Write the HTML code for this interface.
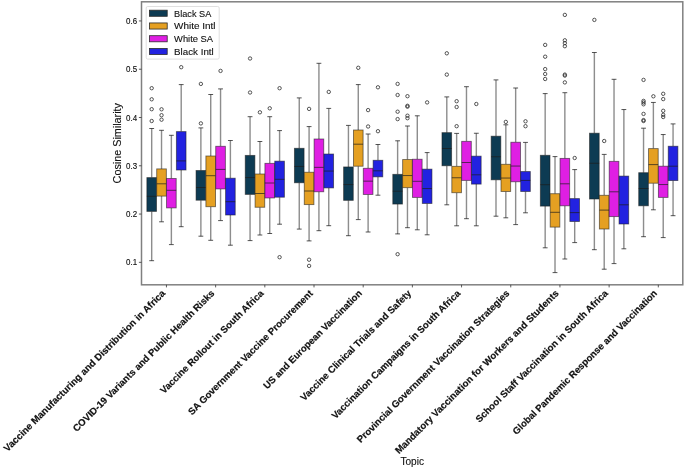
<!DOCTYPE html>
<html><head><meta charset="utf-8"><style>
html,body{margin:0;padding:0;background:#fff;width:685px;height:469px;overflow:hidden}
svg{display:block;will-change:transform}
text{font-family:"Liberation Sans",sans-serif;fill:#111}
</style></head><body>
<svg width="685" height="469" viewBox="0 0 685 469">
<rect width="685" height="469" fill="#fff"/>
<g stroke-linecap="butt">
<path d="M151.69 177.60V128.50M151.69 211.40V260.70" stroke="#1c1c1c" stroke-width="1.4" fill="none" stroke-opacity="0.5"/><path d="M149.28 128.50H154.10M149.28 260.70H154.10" stroke="#1c1c1c" stroke-opacity="0.75" stroke-width="1" fill="none"/><rect x="146.87" y="177.60" width="9.64" height="33.80" fill="#0d3b53" stroke="#1c1c1c" stroke-opacity="0.6" stroke-width="0.9"/><path d="M146.87 196.30H156.51" stroke="#1c1c1c" stroke-opacity="0.7" stroke-width="1" fill="none"/><circle cx="151.69" cy="88.20" r="1.7" fill="none" stroke="#2b2b2b" stroke-width="0.8"/><circle cx="151.69" cy="99.30" r="1.7" fill="none" stroke="#2b2b2b" stroke-width="0.8"/><circle cx="151.69" cy="109.20" r="1.7" fill="none" stroke="#2b2b2b" stroke-width="0.8"/><circle cx="151.69" cy="121.00" r="1.7" fill="none" stroke="#2b2b2b" stroke-width="0.8"/>
<path d="M161.53 168.90V130.30M161.53 196.10V221.80" stroke="#1c1c1c" stroke-width="1.4" fill="none" stroke-opacity="0.5"/><path d="M159.12 130.30H163.94M159.12 221.80H163.94" stroke="#1c1c1c" stroke-opacity="0.75" stroke-width="1" fill="none"/><rect x="156.71" y="168.90" width="9.64" height="27.20" fill="#e5a022" stroke="#1c1c1c" stroke-opacity="0.6" stroke-width="0.9"/><path d="M156.71 183.80H166.35" stroke="#1c1c1c" stroke-opacity="0.7" stroke-width="1" fill="none"/><circle cx="161.53" cy="109.30" r="1.7" fill="none" stroke="#2b2b2b" stroke-width="0.8"/><circle cx="161.53" cy="115.20" r="1.7" fill="none" stroke="#2b2b2b" stroke-width="0.8"/><circle cx="161.53" cy="119.70" r="1.7" fill="none" stroke="#2b2b2b" stroke-width="0.8"/>
<path d="M171.37 178.50V135.30M171.37 207.90V244.60" stroke="#1c1c1c" stroke-width="1.4" fill="none" stroke-opacity="0.5"/><path d="M168.96 135.30H173.78M168.96 244.60H173.78" stroke="#1c1c1c" stroke-opacity="0.75" stroke-width="1" fill="none"/><rect x="166.55" y="178.50" width="9.64" height="29.40" fill="#df1fe3" stroke="#1c1c1c" stroke-opacity="0.6" stroke-width="0.9"/><path d="M166.55 190.30H176.19" stroke="#1c1c1c" stroke-opacity="0.7" stroke-width="1" fill="none"/>
<path d="M181.21 131.60V84.60M181.21 170.00V226.70" stroke="#1c1c1c" stroke-width="1.4" fill="none" stroke-opacity="0.5"/><path d="M178.80 84.60H183.62M178.80 226.70H183.62" stroke="#1c1c1c" stroke-opacity="0.75" stroke-width="1" fill="none"/><rect x="176.39" y="131.60" width="9.64" height="38.40" fill="#2222e0" stroke="#1c1c1c" stroke-opacity="0.6" stroke-width="0.9"/><path d="M176.39 160.90H186.03" stroke="#1c1c1c" stroke-opacity="0.7" stroke-width="1" fill="none"/><circle cx="181.21" cy="67.20" r="1.7" fill="none" stroke="#2b2b2b" stroke-width="0.8"/>
<path d="M200.88 170.50V127.90M200.88 200.20V236.20" stroke="#1c1c1c" stroke-width="1.4" fill="none" stroke-opacity="0.5"/><path d="M198.47 127.90H203.29M198.47 236.20H203.29" stroke="#1c1c1c" stroke-opacity="0.75" stroke-width="1" fill="none"/><rect x="196.06" y="170.50" width="9.64" height="29.70" fill="#0d3b53" stroke="#1c1c1c" stroke-opacity="0.6" stroke-width="0.9"/><path d="M196.06 187.50H205.70" stroke="#1c1c1c" stroke-opacity="0.7" stroke-width="1" fill="none"/><circle cx="200.88" cy="83.90" r="1.7" fill="none" stroke="#2b2b2b" stroke-width="0.8"/><circle cx="200.88" cy="123.40" r="1.7" fill="none" stroke="#2b2b2b" stroke-width="0.8"/>
<path d="M210.72 156.00V94.50M210.72 206.70V240.30" stroke="#1c1c1c" stroke-width="1.4" fill="none" stroke-opacity="0.5"/><path d="M208.31 94.50H213.13M208.31 240.30H213.13" stroke="#1c1c1c" stroke-opacity="0.75" stroke-width="1" fill="none"/><rect x="205.90" y="156.00" width="9.64" height="50.70" fill="#e5a022" stroke="#1c1c1c" stroke-opacity="0.6" stroke-width="0.9"/><path d="M205.90 175.70H215.54" stroke="#1c1c1c" stroke-opacity="0.7" stroke-width="1" fill="none"/>
<path d="M220.55 146.30V88.90M220.55 188.90V220.60" stroke="#1c1c1c" stroke-width="1.4" fill="none" stroke-opacity="0.5"/><path d="M218.14 88.90H222.96M218.14 220.60H222.96" stroke="#1c1c1c" stroke-opacity="0.75" stroke-width="1" fill="none"/><rect x="215.73" y="146.30" width="9.64" height="42.60" fill="#df1fe3" stroke="#1c1c1c" stroke-opacity="0.6" stroke-width="0.9"/><path d="M215.73 169.40H225.37" stroke="#1c1c1c" stroke-opacity="0.7" stroke-width="1" fill="none"/><circle cx="220.55" cy="70.90" r="1.7" fill="none" stroke="#2b2b2b" stroke-width="0.8"/>
<path d="M230.39 178.20V140.50M230.39 215.00V245.20" stroke="#1c1c1c" stroke-width="1.4" fill="none" stroke-opacity="0.5"/><path d="M227.98 140.50H232.80M227.98 245.20H232.80" stroke="#1c1c1c" stroke-opacity="0.75" stroke-width="1" fill="none"/><rect x="225.57" y="178.20" width="9.64" height="36.80" fill="#2222e0" stroke="#1c1c1c" stroke-opacity="0.6" stroke-width="0.9"/><path d="M225.57 201.70H235.21" stroke="#1c1c1c" stroke-opacity="0.7" stroke-width="1" fill="none"/>
<path d="M250.06 155.40V116.70M250.06 194.40V240.60" stroke="#1c1c1c" stroke-width="1.4" fill="none" stroke-opacity="0.5"/><path d="M247.65 116.70H252.47M247.65 240.60H252.47" stroke="#1c1c1c" stroke-opacity="0.75" stroke-width="1" fill="none"/><rect x="245.24" y="155.40" width="9.64" height="39.00" fill="#0d3b53" stroke="#1c1c1c" stroke-opacity="0.6" stroke-width="0.9"/><path d="M245.24 177.55H254.88" stroke="#1c1c1c" stroke-opacity="0.7" stroke-width="1" fill="none"/><circle cx="250.06" cy="58.50" r="1.7" fill="none" stroke="#2b2b2b" stroke-width="0.8"/><circle cx="250.06" cy="92.50" r="1.7" fill="none" stroke="#2b2b2b" stroke-width="0.8"/>
<path d="M259.90 174.00V141.50M259.90 207.25V235.00" stroke="#1c1c1c" stroke-width="1.4" fill="none" stroke-opacity="0.5"/><path d="M257.49 141.50H262.31M257.49 235.00H262.31" stroke="#1c1c1c" stroke-opacity="0.75" stroke-width="1" fill="none"/><rect x="255.08" y="174.00" width="9.64" height="33.25" fill="#e5a022" stroke="#1c1c1c" stroke-opacity="0.6" stroke-width="0.9"/><path d="M255.08 193.50H264.72" stroke="#1c1c1c" stroke-opacity="0.7" stroke-width="1" fill="none"/><circle cx="259.90" cy="112.30" r="1.7" fill="none" stroke="#2b2b2b" stroke-width="0.8"/>
<path d="M269.74 163.35V116.70M269.74 197.95V233.50" stroke="#1c1c1c" stroke-width="1.4" fill="none" stroke-opacity="0.5"/><path d="M267.33 116.70H272.15M267.33 233.50H272.15" stroke="#1c1c1c" stroke-opacity="0.75" stroke-width="1" fill="none"/><rect x="264.92" y="163.35" width="9.64" height="34.60" fill="#df1fe3" stroke="#1c1c1c" stroke-opacity="0.6" stroke-width="0.9"/><path d="M264.92 183.00H274.56" stroke="#1c1c1c" stroke-opacity="0.7" stroke-width="1" fill="none"/><circle cx="269.74" cy="108.30" r="1.7" fill="none" stroke="#2b2b2b" stroke-width="0.8"/>
<path d="M279.58 161.15V130.60M279.58 197.20V224.20" stroke="#1c1c1c" stroke-width="1.4" fill="none" stroke-opacity="0.5"/><path d="M277.17 130.60H281.99M277.17 224.20H281.99" stroke="#1c1c1c" stroke-opacity="0.75" stroke-width="1" fill="none"/><rect x="274.76" y="161.15" width="9.64" height="36.05" fill="#2222e0" stroke="#1c1c1c" stroke-opacity="0.6" stroke-width="0.9"/><path d="M274.76 179.30H284.40" stroke="#1c1c1c" stroke-opacity="0.7" stroke-width="1" fill="none"/><circle cx="279.58" cy="88.20" r="1.7" fill="none" stroke="#2b2b2b" stroke-width="0.8"/><circle cx="279.58" cy="257.20" r="1.7" fill="none" stroke="#2b2b2b" stroke-width="0.8"/>
<path d="M299.25 148.30V97.90M299.25 182.75V229.10" stroke="#1c1c1c" stroke-width="1.4" fill="none" stroke-opacity="0.5"/><path d="M296.84 97.90H301.66M296.84 229.10H301.66" stroke="#1c1c1c" stroke-opacity="0.75" stroke-width="1" fill="none"/><rect x="294.43" y="148.30" width="9.64" height="34.45" fill="#0d3b53" stroke="#1c1c1c" stroke-opacity="0.6" stroke-width="0.9"/><path d="M294.43 166.45H304.07" stroke="#1c1c1c" stroke-opacity="0.7" stroke-width="1" fill="none"/>
<path d="M309.09 172.25V126.60M309.09 204.60V240.90" stroke="#1c1c1c" stroke-width="1.4" fill="none" stroke-opacity="0.5"/><path d="M306.68 126.60H311.50M306.68 240.90H311.50" stroke="#1c1c1c" stroke-opacity="0.75" stroke-width="1" fill="none"/><rect x="304.27" y="172.25" width="9.64" height="32.35" fill="#e5a022" stroke="#1c1c1c" stroke-opacity="0.6" stroke-width="0.9"/><path d="M304.27 191.00H313.91" stroke="#1c1c1c" stroke-opacity="0.7" stroke-width="1" fill="none"/><circle cx="309.09" cy="108.90" r="1.7" fill="none" stroke="#2b2b2b" stroke-width="0.8"/><circle cx="309.09" cy="259.70" r="1.7" fill="none" stroke="#2b2b2b" stroke-width="0.8"/><circle cx="309.09" cy="265.90" r="1.7" fill="none" stroke="#2b2b2b" stroke-width="0.8"/>
<path d="M318.92 139.00V63.30M318.92 191.75V230.70" stroke="#1c1c1c" stroke-width="1.4" fill="none" stroke-opacity="0.5"/><path d="M316.51 63.30H321.33M316.51 230.70H321.33" stroke="#1c1c1c" stroke-opacity="0.75" stroke-width="1" fill="none"/><rect x="314.10" y="139.00" width="9.64" height="52.75" fill="#df1fe3" stroke="#1c1c1c" stroke-opacity="0.6" stroke-width="0.9"/><path d="M314.10 167.35H323.74" stroke="#1c1c1c" stroke-opacity="0.7" stroke-width="1" fill="none"/>
<path d="M328.76 154.05V108.40M328.76 187.90V225.70" stroke="#1c1c1c" stroke-width="1.4" fill="none" stroke-opacity="0.5"/><path d="M326.35 108.40H331.17M326.35 225.70H331.17" stroke="#1c1c1c" stroke-opacity="0.75" stroke-width="1" fill="none"/><rect x="323.94" y="154.05" width="9.64" height="33.85" fill="#2222e0" stroke="#1c1c1c" stroke-opacity="0.6" stroke-width="0.9"/><path d="M323.94 171.05H333.58" stroke="#1c1c1c" stroke-opacity="0.7" stroke-width="1" fill="none"/><circle cx="328.76" cy="91.90" r="1.7" fill="none" stroke="#2b2b2b" stroke-width="0.8"/>
<path d="M348.43 166.95V125.40M348.43 200.35V235.70" stroke="#1c1c1c" stroke-width="1.4" fill="none" stroke-opacity="0.5"/><path d="M346.02 125.40H350.84M346.02 235.70H350.84" stroke="#1c1c1c" stroke-opacity="0.75" stroke-width="1" fill="none"/><rect x="343.61" y="166.95" width="9.64" height="33.40" fill="#0d3b53" stroke="#1c1c1c" stroke-opacity="0.6" stroke-width="0.9"/><path d="M343.61 184.55H353.25" stroke="#1c1c1c" stroke-opacity="0.7" stroke-width="1" fill="none"/>
<path d="M358.27 130.00V84.60M358.27 166.20V219.60" stroke="#1c1c1c" stroke-width="1.4" fill="none" stroke-opacity="0.5"/><path d="M355.86 84.60H360.68M355.86 219.60H360.68" stroke="#1c1c1c" stroke-opacity="0.75" stroke-width="1" fill="none"/><rect x="353.45" y="130.00" width="9.64" height="36.20" fill="#e5a022" stroke="#1c1c1c" stroke-opacity="0.6" stroke-width="0.9"/><path d="M353.45 144.20H363.09" stroke="#1c1c1c" stroke-opacity="0.7" stroke-width="1" fill="none"/><circle cx="358.27" cy="67.80" r="1.7" fill="none" stroke="#2b2b2b" stroke-width="0.8"/>
<path d="M368.11 168.30V134.00M368.11 194.45V232.00" stroke="#1c1c1c" stroke-width="1.4" fill="none" stroke-opacity="0.5"/><path d="M365.70 134.00H370.52M365.70 232.00H370.52" stroke="#1c1c1c" stroke-opacity="0.75" stroke-width="1" fill="none"/><rect x="363.29" y="168.30" width="9.64" height="26.15" fill="#df1fe3" stroke="#1c1c1c" stroke-opacity="0.6" stroke-width="0.9"/><path d="M363.29 181.15H372.93" stroke="#1c1c1c" stroke-opacity="0.7" stroke-width="1" fill="none"/><circle cx="368.11" cy="110.10" r="1.7" fill="none" stroke="#2b2b2b" stroke-width="0.8"/><circle cx="368.11" cy="126.50" r="1.7" fill="none" stroke="#2b2b2b" stroke-width="0.8"/>
<path d="M377.95 160.30V144.50M377.95 176.85V195.20" stroke="#1c1c1c" stroke-width="1.4" fill="none" stroke-opacity="0.5"/><path d="M375.54 144.50H380.36M375.54 195.20H380.36" stroke="#1c1c1c" stroke-opacity="0.75" stroke-width="1" fill="none"/><rect x="373.13" y="160.30" width="9.64" height="16.55" fill="#2222e0" stroke="#1c1c1c" stroke-opacity="0.6" stroke-width="0.9"/><path d="M373.13 170.80H382.77" stroke="#1c1c1c" stroke-opacity="0.7" stroke-width="1" fill="none"/><circle cx="377.95" cy="87.30" r="1.7" fill="none" stroke="#2b2b2b" stroke-width="0.8"/><circle cx="377.95" cy="131.20" r="1.7" fill="none" stroke="#2b2b2b" stroke-width="0.8"/>
<path d="M397.62 174.35V140.80M397.62 204.05V233.90" stroke="#1c1c1c" stroke-width="1.4" fill="none" stroke-opacity="0.5"/><path d="M395.21 140.80H400.03M395.21 233.90H400.03" stroke="#1c1c1c" stroke-opacity="0.75" stroke-width="1" fill="none"/><rect x="392.80" y="174.35" width="9.64" height="29.70" fill="#0d3b53" stroke="#1c1c1c" stroke-opacity="0.6" stroke-width="0.9"/><path d="M392.80 191.20H402.44" stroke="#1c1c1c" stroke-opacity="0.7" stroke-width="1" fill="none"/><circle cx="397.62" cy="83.90" r="1.7" fill="none" stroke="#2b2b2b" stroke-width="0.8"/><circle cx="397.62" cy="95.00" r="1.7" fill="none" stroke="#2b2b2b" stroke-width="0.8"/><circle cx="397.62" cy="111.70" r="1.7" fill="none" stroke="#2b2b2b" stroke-width="0.8"/><circle cx="397.62" cy="119.10" r="1.7" fill="none" stroke="#2b2b2b" stroke-width="0.8"/><circle cx="397.62" cy="254.20" r="1.7" fill="none" stroke="#2b2b2b" stroke-width="0.8"/>
<path d="M407.46 159.55V126.00M407.46 187.65V227.70" stroke="#1c1c1c" stroke-width="1.4" fill="none" stroke-opacity="0.5"/><path d="M405.05 126.00H409.87M405.05 227.70H409.87" stroke="#1c1c1c" stroke-opacity="0.75" stroke-width="1" fill="none"/><rect x="402.64" y="159.55" width="9.64" height="28.10" fill="#e5a022" stroke="#1c1c1c" stroke-opacity="0.6" stroke-width="0.9"/><path d="M402.64 175.55H412.28" stroke="#1c1c1c" stroke-opacity="0.7" stroke-width="1" fill="none"/><circle cx="407.46" cy="96.20" r="1.7" fill="none" stroke="#2b2b2b" stroke-width="0.8"/><circle cx="407.46" cy="105.80" r="1.7" fill="none" stroke="#2b2b2b" stroke-width="0.8"/><circle cx="407.46" cy="106.70" r="1.7" fill="none" stroke="#2b2b2b" stroke-width="0.8"/><circle cx="407.46" cy="115.70" r="1.7" fill="none" stroke="#2b2b2b" stroke-width="0.8"/><circle cx="407.46" cy="118.20" r="1.7" fill="none" stroke="#2b2b2b" stroke-width="0.8"/>
<path d="M417.29 159.25V115.80M417.29 197.40V229.80" stroke="#1c1c1c" stroke-width="1.4" fill="none" stroke-opacity="0.5"/><path d="M414.88 115.80H419.70M414.88 229.80H419.70" stroke="#1c1c1c" stroke-opacity="0.75" stroke-width="1" fill="none"/><rect x="412.47" y="159.25" width="9.64" height="38.15" fill="#df1fe3" stroke="#1c1c1c" stroke-opacity="0.6" stroke-width="0.9"/><path d="M412.47 181.30H422.11" stroke="#1c1c1c" stroke-opacity="0.7" stroke-width="1" fill="none"/>
<path d="M427.13 169.15V152.60M427.13 203.45V234.80" stroke="#1c1c1c" stroke-width="1.4" fill="none" stroke-opacity="0.5"/><path d="M424.72 152.60H429.54M424.72 234.80H429.54" stroke="#1c1c1c" stroke-opacity="0.75" stroke-width="1" fill="none"/><rect x="422.31" y="169.15" width="9.64" height="34.30" fill="#2222e0" stroke="#1c1c1c" stroke-opacity="0.6" stroke-width="0.9"/><path d="M422.31 188.55H431.95" stroke="#1c1c1c" stroke-opacity="0.7" stroke-width="1" fill="none"/><circle cx="427.13" cy="102.40" r="1.7" fill="none" stroke="#2b2b2b" stroke-width="0.8"/>
<path d="M446.80 132.65V96.90M446.80 165.75V204.80" stroke="#1c1c1c" stroke-width="1.4" fill="none" stroke-opacity="0.5"/><path d="M444.39 96.90H449.21M444.39 204.80H449.21" stroke="#1c1c1c" stroke-opacity="0.75" stroke-width="1" fill="none"/><rect x="441.98" y="132.65" width="9.64" height="33.10" fill="#0d3b53" stroke="#1c1c1c" stroke-opacity="0.6" stroke-width="0.9"/><path d="M441.98 148.50H451.62" stroke="#1c1c1c" stroke-opacity="0.7" stroke-width="1" fill="none"/><circle cx="446.80" cy="53.30" r="1.7" fill="none" stroke="#2b2b2b" stroke-width="0.8"/><circle cx="446.80" cy="74.60" r="1.7" fill="none" stroke="#2b2b2b" stroke-width="0.8"/>
<path d="M456.64 166.35V133.40M456.64 192.70V225.80" stroke="#1c1c1c" stroke-width="1.4" fill="none" stroke-opacity="0.5"/><path d="M454.23 133.40H459.05M454.23 225.80H459.05" stroke="#1c1c1c" stroke-opacity="0.75" stroke-width="1" fill="none"/><rect x="451.82" y="166.35" width="9.64" height="26.35" fill="#e5a022" stroke="#1c1c1c" stroke-opacity="0.6" stroke-width="0.9"/><path d="M451.82 177.75H461.46" stroke="#1c1c1c" stroke-opacity="0.7" stroke-width="1" fill="none"/><circle cx="456.64" cy="101.20" r="1.7" fill="none" stroke="#2b2b2b" stroke-width="0.8"/><circle cx="456.64" cy="107.00" r="1.7" fill="none" stroke="#2b2b2b" stroke-width="0.8"/><circle cx="456.64" cy="126.20" r="1.7" fill="none" stroke="#2b2b2b" stroke-width="0.8"/>
<path d="M466.48 141.35V86.70M466.48 180.40V218.70" stroke="#1c1c1c" stroke-width="1.4" fill="none" stroke-opacity="0.5"/><path d="M464.07 86.70H468.89M464.07 218.70H468.89" stroke="#1c1c1c" stroke-opacity="0.75" stroke-width="1" fill="none"/><rect x="461.66" y="141.35" width="9.64" height="39.05" fill="#df1fe3" stroke="#1c1c1c" stroke-opacity="0.6" stroke-width="0.9"/><path d="M461.66 162.50H471.30" stroke="#1c1c1c" stroke-opacity="0.7" stroke-width="1" fill="none"/>
<path d="M476.32 156.15V133.25M476.32 184.10V225.80" stroke="#1c1c1c" stroke-width="1.4" fill="none" stroke-opacity="0.5"/><path d="M473.91 133.25H478.73M473.91 225.80H478.73" stroke="#1c1c1c" stroke-opacity="0.75" stroke-width="1" fill="none"/><rect x="471.50" y="156.15" width="9.64" height="27.95" fill="#2222e0" stroke="#1c1c1c" stroke-opacity="0.6" stroke-width="0.9"/><path d="M471.50 174.80H481.14" stroke="#1c1c1c" stroke-opacity="0.7" stroke-width="1" fill="none"/><circle cx="476.32" cy="104.00" r="1.7" fill="none" stroke="#2b2b2b" stroke-width="0.8"/>
<path d="M495.99 136.20V79.90M495.99 179.80V216.20" stroke="#1c1c1c" stroke-width="1.4" fill="none" stroke-opacity="0.5"/><path d="M493.58 79.90H498.40M493.58 216.20H498.40" stroke="#1c1c1c" stroke-opacity="0.75" stroke-width="1" fill="none"/><rect x="491.17" y="136.20" width="9.64" height="43.60" fill="#0d3b53" stroke="#1c1c1c" stroke-opacity="0.6" stroke-width="0.9"/><path d="M491.17 156.75H500.81" stroke="#1c1c1c" stroke-opacity="0.7" stroke-width="1" fill="none"/>
<path d="M505.83 164.30V124.80M505.83 191.50V217.80" stroke="#1c1c1c" stroke-width="1.4" fill="none" stroke-opacity="0.5"/><path d="M503.42 124.80H508.24M503.42 217.80H508.24" stroke="#1c1c1c" stroke-opacity="0.75" stroke-width="1" fill="none"/><rect x="501.01" y="164.30" width="9.64" height="27.20" fill="#e5a022" stroke="#1c1c1c" stroke-opacity="0.6" stroke-width="0.9"/><path d="M501.01 178.05H510.65" stroke="#1c1c1c" stroke-opacity="0.7" stroke-width="1" fill="none"/><circle cx="505.83" cy="121.90" r="1.7" fill="none" stroke="#2b2b2b" stroke-width="0.8"/>
<path d="M515.66 142.25V88.00M515.66 181.75V224.60" stroke="#1c1c1c" stroke-width="1.4" fill="none" stroke-opacity="0.5"/><path d="M513.25 88.00H518.07M513.25 224.60H518.07" stroke="#1c1c1c" stroke-opacity="0.75" stroke-width="1" fill="none"/><rect x="510.84" y="142.25" width="9.64" height="39.50" fill="#df1fe3" stroke="#1c1c1c" stroke-opacity="0.6" stroke-width="0.9"/><path d="M510.84 166.05H520.48" stroke="#1c1c1c" stroke-opacity="0.7" stroke-width="1" fill="none"/>
<path d="M525.50 171.55V142.40M525.50 191.50V212.80" stroke="#1c1c1c" stroke-width="1.4" fill="none" stroke-opacity="0.5"/><path d="M523.09 142.40H527.91M523.09 212.80H527.91" stroke="#1c1c1c" stroke-opacity="0.75" stroke-width="1" fill="none"/><rect x="520.68" y="171.55" width="9.64" height="19.95" fill="#2222e0" stroke="#1c1c1c" stroke-opacity="0.6" stroke-width="0.9"/><path d="M520.68 180.40H530.32" stroke="#1c1c1c" stroke-opacity="0.7" stroke-width="1" fill="none"/><circle cx="525.50" cy="121.30" r="1.7" fill="none" stroke="#2b2b2b" stroke-width="0.8"/><circle cx="525.50" cy="126.20" r="1.7" fill="none" stroke="#2b2b2b" stroke-width="0.8"/>
<path d="M545.17 155.30V93.60M545.17 206.10V247.80" stroke="#1c1c1c" stroke-width="1.4" fill="none" stroke-opacity="0.5"/><path d="M542.76 93.60H547.58M542.76 247.80H547.58" stroke="#1c1c1c" stroke-opacity="0.75" stroke-width="1" fill="none"/><rect x="540.35" y="155.30" width="9.64" height="50.80" fill="#0d3b53" stroke="#1c1c1c" stroke-opacity="0.6" stroke-width="0.9"/><path d="M540.35 184.70H549.99" stroke="#1c1c1c" stroke-opacity="0.7" stroke-width="1" fill="none"/><circle cx="545.17" cy="44.90" r="1.7" fill="none" stroke="#2b2b2b" stroke-width="0.8"/><circle cx="545.17" cy="56.70" r="1.7" fill="none" stroke="#2b2b2b" stroke-width="0.8"/><circle cx="545.17" cy="69.10" r="1.7" fill="none" stroke="#2b2b2b" stroke-width="0.8"/><circle cx="545.17" cy="74.00" r="1.7" fill="none" stroke="#2b2b2b" stroke-width="0.8"/><circle cx="545.17" cy="79.00" r="1.7" fill="none" stroke="#2b2b2b" stroke-width="0.8"/>
<path d="M555.01 193.70V156.60M555.01 227.10V272.60" stroke="#1c1c1c" stroke-width="1.4" fill="none" stroke-opacity="0.5"/><path d="M552.60 156.60H557.42M552.60 272.60H557.42" stroke="#1c1c1c" stroke-opacity="0.75" stroke-width="1" fill="none"/><rect x="550.19" y="193.70" width="9.64" height="33.40" fill="#e5a022" stroke="#1c1c1c" stroke-opacity="0.6" stroke-width="0.9"/><path d="M550.19 212.30H559.83" stroke="#1c1c1c" stroke-opacity="0.7" stroke-width="1" fill="none"/>
<path d="M564.85 158.40V92.70M564.85 205.80V259.00" stroke="#1c1c1c" stroke-width="1.4" fill="none" stroke-opacity="0.5"/><path d="M562.44 92.70H567.26M562.44 259.00H567.26" stroke="#1c1c1c" stroke-opacity="0.75" stroke-width="1" fill="none"/><rect x="560.03" y="158.40" width="9.64" height="47.40" fill="#df1fe3" stroke="#1c1c1c" stroke-opacity="0.6" stroke-width="0.9"/><path d="M560.03 183.80H569.67" stroke="#1c1c1c" stroke-opacity="0.7" stroke-width="1" fill="none"/><circle cx="564.85" cy="14.90" r="1.7" fill="none" stroke="#2b2b2b" stroke-width="0.8"/><circle cx="564.85" cy="40.30" r="1.7" fill="none" stroke="#2b2b2b" stroke-width="0.8"/><circle cx="564.85" cy="43.10" r="1.7" fill="none" stroke="#2b2b2b" stroke-width="0.8"/><circle cx="564.85" cy="46.20" r="1.7" fill="none" stroke="#2b2b2b" stroke-width="0.8"/><circle cx="564.85" cy="74.60" r="1.7" fill="none" stroke="#2b2b2b" stroke-width="0.8"/><circle cx="564.85" cy="75.60" r="1.7" fill="none" stroke="#2b2b2b" stroke-width="0.8"/><circle cx="564.85" cy="82.40" r="1.7" fill="none" stroke="#2b2b2b" stroke-width="0.8"/>
<path d="M574.69 198.60V169.60M574.69 221.50V242.60" stroke="#1c1c1c" stroke-width="1.4" fill="none" stroke-opacity="0.5"/><path d="M572.28 169.60H577.10M572.28 242.60H577.10" stroke="#1c1c1c" stroke-opacity="0.75" stroke-width="1" fill="none"/><rect x="569.87" y="198.60" width="9.64" height="22.90" fill="#2222e0" stroke="#1c1c1c" stroke-opacity="0.6" stroke-width="0.9"/><path d="M569.87 212.60H579.51" stroke="#1c1c1c" stroke-opacity="0.7" stroke-width="1" fill="none"/><circle cx="574.69" cy="158.00" r="1.7" fill="none" stroke="#2b2b2b" stroke-width="0.8"/>
<path d="M594.36 133.20V52.50M594.36 199.00V249.70" stroke="#1c1c1c" stroke-width="1.4" fill="none" stroke-opacity="0.5"/><path d="M591.95 52.50H596.77M591.95 249.70H596.77" stroke="#1c1c1c" stroke-opacity="0.75" stroke-width="1" fill="none"/><rect x="589.54" y="133.20" width="9.64" height="65.80" fill="#0d3b53" stroke="#1c1c1c" stroke-opacity="0.6" stroke-width="0.9"/><path d="M589.54 163.25H599.18" stroke="#1c1c1c" stroke-opacity="0.7" stroke-width="1" fill="none"/><circle cx="594.36" cy="19.90" r="1.7" fill="none" stroke="#2b2b2b" stroke-width="0.8"/>
<path d="M604.20 195.30V154.40M604.20 229.00V269.20" stroke="#1c1c1c" stroke-width="1.4" fill="none" stroke-opacity="0.5"/><path d="M601.79 154.40H606.61M601.79 269.20H606.61" stroke="#1c1c1c" stroke-opacity="0.75" stroke-width="1" fill="none"/><rect x="599.38" y="195.30" width="9.64" height="33.70" fill="#e5a022" stroke="#1c1c1c" stroke-opacity="0.6" stroke-width="0.9"/><path d="M599.38 210.10H609.02" stroke="#1c1c1c" stroke-opacity="0.7" stroke-width="1" fill="none"/><circle cx="604.20" cy="141.00" r="1.7" fill="none" stroke="#2b2b2b" stroke-width="0.8"/>
<path d="M614.03 161.35V79.30M614.03 216.60V263.60" stroke="#1c1c1c" stroke-width="1.4" fill="none" stroke-opacity="0.5"/><path d="M611.62 79.30H616.44M611.62 263.60H616.44" stroke="#1c1c1c" stroke-opacity="0.75" stroke-width="1" fill="none"/><rect x="609.21" y="161.35" width="9.64" height="55.25" fill="#df1fe3" stroke="#1c1c1c" stroke-opacity="0.6" stroke-width="0.9"/><path d="M609.21 191.80H618.85" stroke="#1c1c1c" stroke-opacity="0.7" stroke-width="1" fill="none"/>
<path d="M623.87 176.10V109.55M623.87 224.00V248.80" stroke="#1c1c1c" stroke-width="1.4" fill="none" stroke-opacity="0.5"/><path d="M621.46 109.55H626.28M621.46 248.80H626.28" stroke="#1c1c1c" stroke-opacity="0.75" stroke-width="1" fill="none"/><rect x="619.05" y="176.10" width="9.64" height="47.90" fill="#2222e0" stroke="#1c1c1c" stroke-opacity="0.6" stroke-width="0.9"/><path d="M619.05 204.80H628.69" stroke="#1c1c1c" stroke-opacity="0.7" stroke-width="1" fill="none"/>
<path d="M643.54 172.70V128.20M643.54 205.80V236.70" stroke="#1c1c1c" stroke-width="1.4" fill="none" stroke-opacity="0.5"/><path d="M641.13 128.20H645.95M641.13 236.70H645.95" stroke="#1c1c1c" stroke-opacity="0.75" stroke-width="1" fill="none"/><rect x="638.72" y="172.70" width="9.64" height="33.10" fill="#0d3b53" stroke="#1c1c1c" stroke-opacity="0.6" stroke-width="0.9"/><path d="M638.72 188.50H648.36" stroke="#1c1c1c" stroke-opacity="0.7" stroke-width="1" fill="none"/><circle cx="643.54" cy="79.90" r="1.7" fill="none" stroke="#2b2b2b" stroke-width="0.8"/><circle cx="643.54" cy="100.90" r="1.7" fill="none" stroke="#2b2b2b" stroke-width="0.8"/><circle cx="643.54" cy="102.50" r="1.7" fill="none" stroke="#2b2b2b" stroke-width="0.8"/><circle cx="643.54" cy="104.30" r="1.7" fill="none" stroke="#2b2b2b" stroke-width="0.8"/><circle cx="643.54" cy="113.90" r="1.7" fill="none" stroke="#2b2b2b" stroke-width="0.8"/><circle cx="643.54" cy="120.10" r="1.7" fill="none" stroke="#2b2b2b" stroke-width="0.8"/><circle cx="643.54" cy="121.00" r="1.7" fill="none" stroke="#2b2b2b" stroke-width="0.8"/>
<path d="M653.38 148.60V102.45M653.38 183.20V209.80" stroke="#1c1c1c" stroke-width="1.4" fill="none" stroke-opacity="0.5"/><path d="M650.97 102.45H655.79M650.97 209.80H655.79" stroke="#1c1c1c" stroke-opacity="0.75" stroke-width="1" fill="none"/><rect x="648.56" y="148.60" width="9.64" height="34.60" fill="#e5a022" stroke="#1c1c1c" stroke-opacity="0.6" stroke-width="0.9"/><path d="M648.56 164.60H658.20" stroke="#1c1c1c" stroke-opacity="0.7" stroke-width="1" fill="none"/><circle cx="653.38" cy="96.30" r="1.7" fill="none" stroke="#2b2b2b" stroke-width="0.8"/>
<path d="M663.22 166.20V134.55M663.22 197.40V237.60" stroke="#1c1c1c" stroke-width="1.4" fill="none" stroke-opacity="0.5"/><path d="M660.81 134.55H665.63M660.81 237.60H665.63" stroke="#1c1c1c" stroke-opacity="0.75" stroke-width="1" fill="none"/><rect x="658.40" y="166.20" width="9.64" height="31.20" fill="#df1fe3" stroke="#1c1c1c" stroke-opacity="0.6" stroke-width="0.9"/><path d="M658.40 184.55H668.04" stroke="#1c1c1c" stroke-opacity="0.7" stroke-width="1" fill="none"/><circle cx="663.22" cy="93.80" r="1.7" fill="none" stroke="#2b2b2b" stroke-width="0.8"/><circle cx="663.22" cy="99.10" r="1.7" fill="none" stroke="#2b2b2b" stroke-width="0.8"/><circle cx="663.22" cy="110.80" r="1.7" fill="none" stroke="#2b2b2b" stroke-width="0.8"/><circle cx="663.22" cy="114.80" r="1.7" fill="none" stroke="#2b2b2b" stroke-width="0.8"/><circle cx="663.22" cy="117.00" r="1.7" fill="none" stroke="#2b2b2b" stroke-width="0.8"/>
<path d="M673.06 146.25V123.90M673.06 180.55V215.70" stroke="#1c1c1c" stroke-width="1.4" fill="none" stroke-opacity="0.5"/><path d="M670.65 123.90H675.47M670.65 215.70H675.47" stroke="#1c1c1c" stroke-opacity="0.75" stroke-width="1" fill="none"/><rect x="668.24" y="146.25" width="9.64" height="34.30" fill="#2222e0" stroke="#1c1c1c" stroke-opacity="0.6" stroke-width="0.9"/><path d="M668.24 166.20H677.88" stroke="#1c1c1c" stroke-opacity="0.7" stroke-width="1" fill="none"/>
</g>
<rect x="141.5" y="1.8" width="541.30" height="283.00" fill="none" stroke="#808080" stroke-width="1.5"/>
<path d="M138.90 262.33H141.5" stroke="#333" stroke-width="0.8"/><text x="137.10" y="265.43" font-size="8.7" stroke="#111" stroke-width="0.15" text-anchor="end" textLength="11.0" lengthAdjust="spacingAndGlyphs">0.1</text>
<path d="M138.90 214.05H141.5" stroke="#333" stroke-width="0.8"/><text x="137.10" y="217.15" font-size="8.7" stroke="#111" stroke-width="0.15" text-anchor="end" textLength="11.0" lengthAdjust="spacingAndGlyphs">0.2</text>
<path d="M138.90 165.78H141.5" stroke="#333" stroke-width="0.8"/><text x="137.10" y="168.88" font-size="8.7" stroke="#111" stroke-width="0.15" text-anchor="end" textLength="11.0" lengthAdjust="spacingAndGlyphs">0.3</text>
<path d="M138.90 117.50H141.5" stroke="#333" stroke-width="0.8"/><text x="137.10" y="120.60" font-size="8.7" stroke="#111" stroke-width="0.15" text-anchor="end" textLength="11.0" lengthAdjust="spacingAndGlyphs">0.4</text>
<path d="M138.90 69.23H141.5" stroke="#333" stroke-width="0.8"/><text x="137.10" y="72.33" font-size="8.7" stroke="#111" stroke-width="0.15" text-anchor="end" textLength="11.0" lengthAdjust="spacingAndGlyphs">0.5</text>
<path d="M138.90 20.95H141.5" stroke="#333" stroke-width="0.8"/><text x="137.10" y="24.05" font-size="8.7" stroke="#111" stroke-width="0.15" text-anchor="end" textLength="11.0" lengthAdjust="spacingAndGlyphs">0.6</text>
<path d="M166.45 284.8V287.40" stroke="#333" stroke-width="0.8"/><text transform="translate(165.85,294.00) rotate(-45)" font-size="9.6" font-weight="bold" stroke="#111" stroke-width="0.18" text-anchor="end" textLength="223.8" lengthAdjust="spacingAndGlyphs" y="0">Vaccine Manufacturing and Distribution in Africa</text>
<path d="M215.63 284.8V287.40" stroke="#333" stroke-width="0.8"/><text transform="translate(215.03,294.00) rotate(-45)" font-size="9.6" font-weight="bold" stroke="#111" stroke-width="0.18" text-anchor="end" textLength="195.6" lengthAdjust="spacingAndGlyphs" y="0">COVID-19 Variants and Public Health Risks</text>
<path d="M264.82 284.8V287.40" stroke="#333" stroke-width="0.8"/><text transform="translate(264.22,294.00) rotate(-45)" font-size="9.6" font-weight="bold" stroke="#111" stroke-width="0.18" text-anchor="end" textLength="141.7" lengthAdjust="spacingAndGlyphs" y="0">Vaccine Rollout in South Africa</text>
<path d="M314.00 284.8V287.40" stroke="#333" stroke-width="0.8"/><text transform="translate(313.40,294.00) rotate(-45)" font-size="9.6" font-weight="bold" stroke="#111" stroke-width="0.18" text-anchor="end" textLength="171.8" lengthAdjust="spacingAndGlyphs" y="0">SA Government Vaccine Procurement</text>
<path d="M363.19 284.8V287.40" stroke="#333" stroke-width="0.8"/><text transform="translate(362.59,294.00) rotate(-45)" font-size="9.6" font-weight="bold" stroke="#111" stroke-width="0.18" text-anchor="end" textLength="134.9" lengthAdjust="spacingAndGlyphs" y="0">US and European Vaccination</text>
<path d="M412.38 284.8V287.40" stroke="#333" stroke-width="0.8"/><text transform="translate(411.77,294.00) rotate(-45)" font-size="9.6" font-weight="bold" stroke="#111" stroke-width="0.18" text-anchor="end" textLength="152.0" lengthAdjust="spacingAndGlyphs" y="0">Vaccine Clinical Trials and Safety</text>
<path d="M461.56 284.8V287.40" stroke="#333" stroke-width="0.8"/><text transform="translate(460.96,294.00) rotate(-45)" font-size="9.6" font-weight="bold" stroke="#111" stroke-width="0.18" text-anchor="end" textLength="177.5" lengthAdjust="spacingAndGlyphs" y="0">Vaccination Campaigns in South Africa</text>
<path d="M510.75 284.8V287.40" stroke="#333" stroke-width="0.8"/><text transform="translate(510.14,294.00) rotate(-45)" font-size="9.6" font-weight="bold" stroke="#111" stroke-width="0.18" text-anchor="end" textLength="211.2" lengthAdjust="spacingAndGlyphs" y="0">Provincial Government Vaccination Strategies</text>
<path d="M559.93 284.8V287.40" stroke="#333" stroke-width="0.8"/><text transform="translate(559.33,294.00) rotate(-45)" font-size="9.6" font-weight="bold" stroke="#111" stroke-width="0.18" text-anchor="end" textLength="226.8" lengthAdjust="spacingAndGlyphs" y="0">Mandatory Vaccination for Workers and Students</text>
<path d="M609.12 284.8V287.40" stroke="#333" stroke-width="0.8"/><text transform="translate(608.51,294.00) rotate(-45)" font-size="9.6" font-weight="bold" stroke="#111" stroke-width="0.18" text-anchor="end" textLength="182.6" lengthAdjust="spacingAndGlyphs" y="0">School Staff Vaccination in South Africa</text>
<path d="M658.30 284.8V287.40" stroke="#333" stroke-width="0.8"/><text transform="translate(657.70,294.00) rotate(-45)" font-size="9.6" font-weight="bold" stroke="#111" stroke-width="0.18" text-anchor="end" textLength="199.6" lengthAdjust="spacingAndGlyphs" y="0">Global Pandemic Response and Vaccination</text>
<text x="412.2" y="465.0" font-size="10" stroke="#111" stroke-width="0.12" text-anchor="middle" textLength="23.6" lengthAdjust="spacingAndGlyphs">Topic</text>
<text transform="translate(121.2,143.2) rotate(-90)" font-size="10.2" stroke="#111" stroke-width="0.12" text-anchor="middle" textLength="80.4" lengthAdjust="spacingAndGlyphs">Cosine Similarity</text>
<rect x="146.2" y="6.5" width="73.0" height="52.6" rx="1.5" fill="#fff" fill-opacity="0.8" stroke="#d8d8d8" stroke-width="0.8"/>
<rect x="149.4" y="10.20" width="17.8" height="6.1" fill="#0d3b53" stroke="#2b2b2b" stroke-width="0.8"/><text x="174.1" y="16.55" font-size="9.1" stroke="#111" stroke-width="0.12" textLength="37.2" lengthAdjust="spacingAndGlyphs">Black SA</text>
<rect x="149.4" y="22.95" width="17.8" height="6.1" fill="#e5a022" stroke="#2b2b2b" stroke-width="0.8"/><text x="174.1" y="29.30" font-size="9.1" stroke="#111" stroke-width="0.12" textLength="41.3" lengthAdjust="spacingAndGlyphs">White Intl</text>
<rect x="149.4" y="35.70" width="17.8" height="6.1" fill="#df1fe3" stroke="#2b2b2b" stroke-width="0.8"/><text x="174.1" y="42.05" font-size="9.1" stroke="#111" stroke-width="0.12" textLength="38.9" lengthAdjust="spacingAndGlyphs">White SA</text>
<rect x="149.4" y="48.45" width="17.8" height="6.1" fill="#2222e0" stroke="#2b2b2b" stroke-width="0.8"/><text x="174.1" y="54.80" font-size="9.1" stroke="#111" stroke-width="0.12" textLength="39.6" lengthAdjust="spacingAndGlyphs">Black Intl</text>
</svg>
</body></html>
